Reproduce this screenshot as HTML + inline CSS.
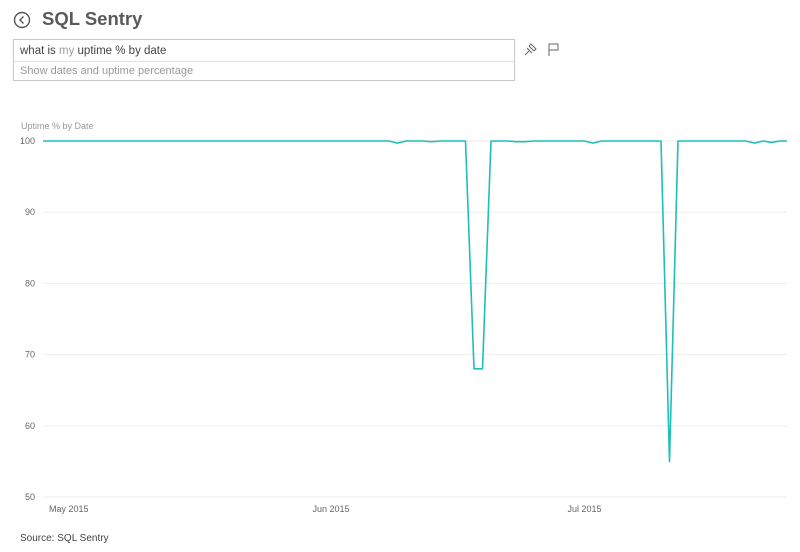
<!DOCTYPE html>
<html><head><meta charset="utf-8"><style>
body{margin:0;width:800px;height:552px;background:#fff;font-family:"Liberation Sans",sans-serif;position:relative;overflow:hidden}
.a{position:absolute}
</style></head><body>
<svg class="a" style="left:12px;top:10px" width="20" height="20"><circle cx="10" cy="10" r="7.5" fill="none" stroke="#555" stroke-width="1.4"/><path d="M11.5 6.5 L8 10 L11.5 13.5" fill="none" stroke="#555" stroke-width="1.4"/></svg>
<div class="a" style="left:42px;top:8px;font-size:18.5px;font-weight:bold;color:#5a5a5a">SQL Sentry</div>
<div class="a" style="left:13px;top:39px;width:500px;height:40px;border:1px solid #c8c8c8">
<div style="position:absolute;left:6px;top:5px;font-size:11.5px;color:#444">what is <span style="color:#999">my</span> uptime % by date</div>
<div style="position:absolute;left:0;right:0;top:21px;border-top:1px solid #e2e2e2"></div>
<div style="position:absolute;left:6px;top:25px;font-size:11px;color:#999">Show dates and uptime percentage</div>
</div>
<svg class="a" style="left:522px;top:42px" width="16" height="16"><path d="M3 13 L7 9 M5 6 L10 11 M7 4 L12 9 M7 4 L9 2 L14 7 L12 9" fill="none" stroke="#666" stroke-width="1"/></svg>
<svg class="a" style="left:546px;top:42px" width="16" height="16"><path d="M3 14 V2 H12 V8 H3" fill="none" stroke="#666" stroke-width="1"/></svg>
<div class="a" style="left:21px;top:121px;font-size:9px;color:#999">Uptime % by Date</div>
<svg id="chart" class="a" style="left:0;top:0" width="800" height="552"></svg>
<div class="a" style="left:20px;top:533px;font-size:10px;color:#444">Source: SQL Sentry</div>
<script>
const yTicks=[100,90,80,70,60,50];
const xTickLabels=["May 2015","Jun 2015","Jul 2015"];
const xTickDays=[0,31,61];
const startDay=-1;
const uptime=[100,100,100,100,100,100,100,100,100,100,100,100,100,100,100,100,100,100,100,100,
100,100,100,100,100,100,100,100,100,100,100,100,100,100,100,100,100,100,100,100,
100,100,99.7,100,100,100,99.9,100,100,100,100,68,68,100,100,100,99.9,99.9,100,100,
100,100,100,100,100,99.7,100,100,100,100,100,100,100,100,55,100,100,100,100,100,
100,100,100,100,99.7,100,99.8,100,100];
const ns="http://www.w3.org/2000/svg";
const svg=document.getElementById('chart');
const X=d=>49+d*8.5, Y=v=>141+(100-v)*7.12;
function mk(t,a){const e=document.createElementNS(ns,t);for(const k in a)e.setAttribute(k,a[k]);svg.appendChild(e);return e;}
yTicks.forEach(v=>{
 const g=mk('line',{x1:43,x2:787,y1:Y(v),y2:Y(v),stroke:'#eeeeee','stroke-width':1});
 
 
 const t=mk('text',{x:35,y:Y(v)+3,'text-anchor':'end','font-size':9,fill:'#666','font-family':'Liberation Sans'});
 t.textContent=v;
 
 
});
xTickLabels.forEach((l,i)=>{
 const t=mk('text',{x:X(xTickDays[i]),y:512,'font-size':9,fill:'#666','font-family':'Liberation Sans'});
 t.textContent=l;
 
 
});
const cp=mk('clipPath',{id:'cp'});
const r=document.createElementNS(ns,'rect');r.setAttribute('x',43);r.setAttribute('y',100);r.setAttribute('width',744);r.setAttribute('height',420);cp.appendChild(r);
const pts=uptime.map((v,i)=>X(startDay+i).toFixed(1)+','+Y(v).toFixed(1)).join(' ');
const pl=mk('polyline',{points:pts,fill:'none',stroke:'#1fbfb8','stroke-width':1.6,'clip-path':'url(#cp)','stroke-linejoin':'round'});


</script>
</body></html>
